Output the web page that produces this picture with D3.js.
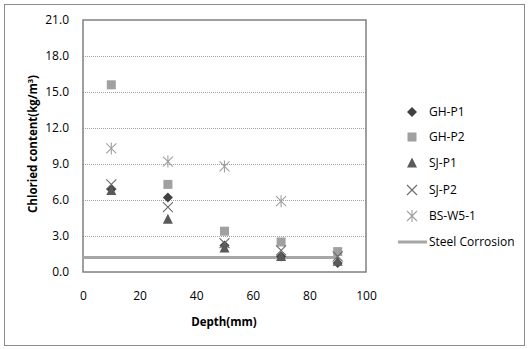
<!DOCTYPE html>
<html><head><meta charset="utf-8">
<script src="https://cdn.jsdelivr.net/npm/d3@7"></script>
<style>body{margin:0;background:#fff}svg{display:block;font-family:"Open Sans","Noto Sans",sans-serif}</style>
</head><body><svg id="c" width="528" height="349"></svg>
<script>
const depths = [10, 30, 50, 70, 90];
const ghP1 = [6.9, 6.2, 2.2, 1.3, 0.75];
const ghP2 = [15.6, 7.3, 3.4, 2.5, 1.7];
const sjP1 = [6.8, 4.4, 2.0, 1.3, 0.9];
const sjP2 = [7.3, 5.4, 2.4, 1.8, 1.3];
const bsW51 = [10.3, 9.2, 8.8, 5.9];
const steelX = [0, 90];
const steelY = [1.2, 1.2];
const yTicks = [0, 3, 6, 9, 12, 15, 18, 21];
const xTicks = [0, 20, 40, 60, 80, 100];

const series = [
  {name: "GH-P1", vals: ghP1, type: "diamond", color: "#404040"},
  {name: "GH-P2", vals: ghP2, type: "square", color: "#a0a0a0"},
  {name: "SJ-P1", vals: sjP1, type: "triangle", color: "#5a5a5a"},
  {name: "SJ-P2", vals: sjP2, type: "x", color: "#6a6a6a"},
  {name: "BS-W5-1", vals: bsW51, type: "star", color: "#a0a0a0"}
];

const svg = d3.select("#c");
svg.append("rect").attr("x",4.5).attr("y",4.5).attr("width",520).attr("height",341)
  .attr("fill","#fff").attr("stroke","#8c8c8c").attr("stroke-width",1);

const L=83, R=366, T=20, B=272;
const x = d3.scaleLinear().domain([0,100]).range([L,R]);
const y = d3.scaleLinear().domain([0,21]).range([B,T]);

svg.append("g").selectAll("line").data(yTicks.filter(d=>d>0&&d<21)).join("line")
  .attr("x1",L).attr("x2",R).attr("y1",d=>y(d)+0.5).attr("y2",d=>y(d)+0.5)
  .attr("stroke","#a0a0a0").attr("stroke-width",1).attr("stroke-dasharray","1,1");

svg.append("rect").attr("x",L).attr("y",T).attr("width",R-L).attr("height",B-T)
  .attr("fill","none").attr("stroke","#808080").attr("stroke-width",1.5);

const yAxis = d3.axisLeft(y).tickValues(yTicks).tickFormat(d3.format(".1f")).tickSize(0).tickPadding(14);
const gy = svg.append("g").attr("transform",`translate(${L},0)`).call(yAxis);
gy.select(".domain").remove();
gy.selectAll("text").attr("font-size",12).attr("fill","#000").attr("font-family","'Open Sans',sans-serif");

const xAxis = d3.axisBottom(x).tickValues(xTicks).tickSize(0).tickPadding(19);
const gx = svg.append("g").attr("transform",`translate(0,${B})`).call(xAxis);
gx.select(".domain").remove();
gx.selectAll("text").attr("font-size",12).attr("fill","#000").attr("font-family","'Open Sans',sans-serif");

const line = d3.line().x(d=>x(d[0])).y(d=>y(d[1]));
svg.append("path").datum(steelX.map((v,i)=>[v,steelY[i]])).attr("d",line)
  .attr("fill","none").attr("stroke","#a6a6a6").attr("stroke-width",3);

function marker(g, type, color){
  if(type==="diamond") g.append("path").attr("d","M0,-5L5,0L0,5L-5,0Z").attr("fill",color);
  else if(type==="square") g.append("rect").attr("x",-4.5).attr("y",-4.5).attr("width",9).attr("height",9).attr("fill",color);
  else if(type==="triangle") g.append("path").attr("d","M0,-5.5L5,4.5L-5,4.5Z").attr("fill",color);
  else if(type==="x") g.append("path").attr("d","M-5,-5L5,5M5,-5L-5,5").attr("stroke",color).attr("stroke-width",1.1).attr("fill","none");
  else if(type==="star") g.append("path").attr("d","M-5,-5L5,5M5,-5L-5,5M0,-6L0,6").attr("stroke",color).attr("stroke-width",1.1).attr("fill","none");
}

series.forEach(s=>{
  s.vals.forEach((v,i)=>{
    const g = svg.append("g").attr("transform",`translate(${x(depths[i])},${y(v)})`);
    marker(g, s.type, s.color);
  });
});

const legY = [112, 137, 163, 190, 216];
series.forEach((s,i)=>{
  const g = svg.append("g").attr("transform",`translate(412,${legY[i]})`);
  marker(g, s.type, s.color);
  svg.append("text").attr("x",429).attr("y",legY[i]+4).attr("font-size",12).text(s.name);
});
svg.append("line").attr("x1",398).attr("x2",427).attr("y1",242).attr("y2",242).attr("stroke","#a6a6a6").attr("stroke-width",3);
svg.append("text").attr("x",429).attr("y",246).attr("font-size",12).text("Steel Corrosion");

svg.append("text").attr("x",224).attr("y",326).attr("text-anchor","middle").attr("font-size",11.5).attr("font-weight","bold").text("Depth(mm)");
const yt = svg.append("text").attr("transform","translate(37,144) rotate(-90)").attr("text-anchor","middle").attr("font-size",11.5).attr("font-weight","bold");
yt.append("tspan").text("Chloried content(kg/m");
yt.append("tspan").attr("font-size",7.5).attr("dy",-4).text("3");
yt.append("tspan").attr("dy",4).text(")");
</script></body></html>
